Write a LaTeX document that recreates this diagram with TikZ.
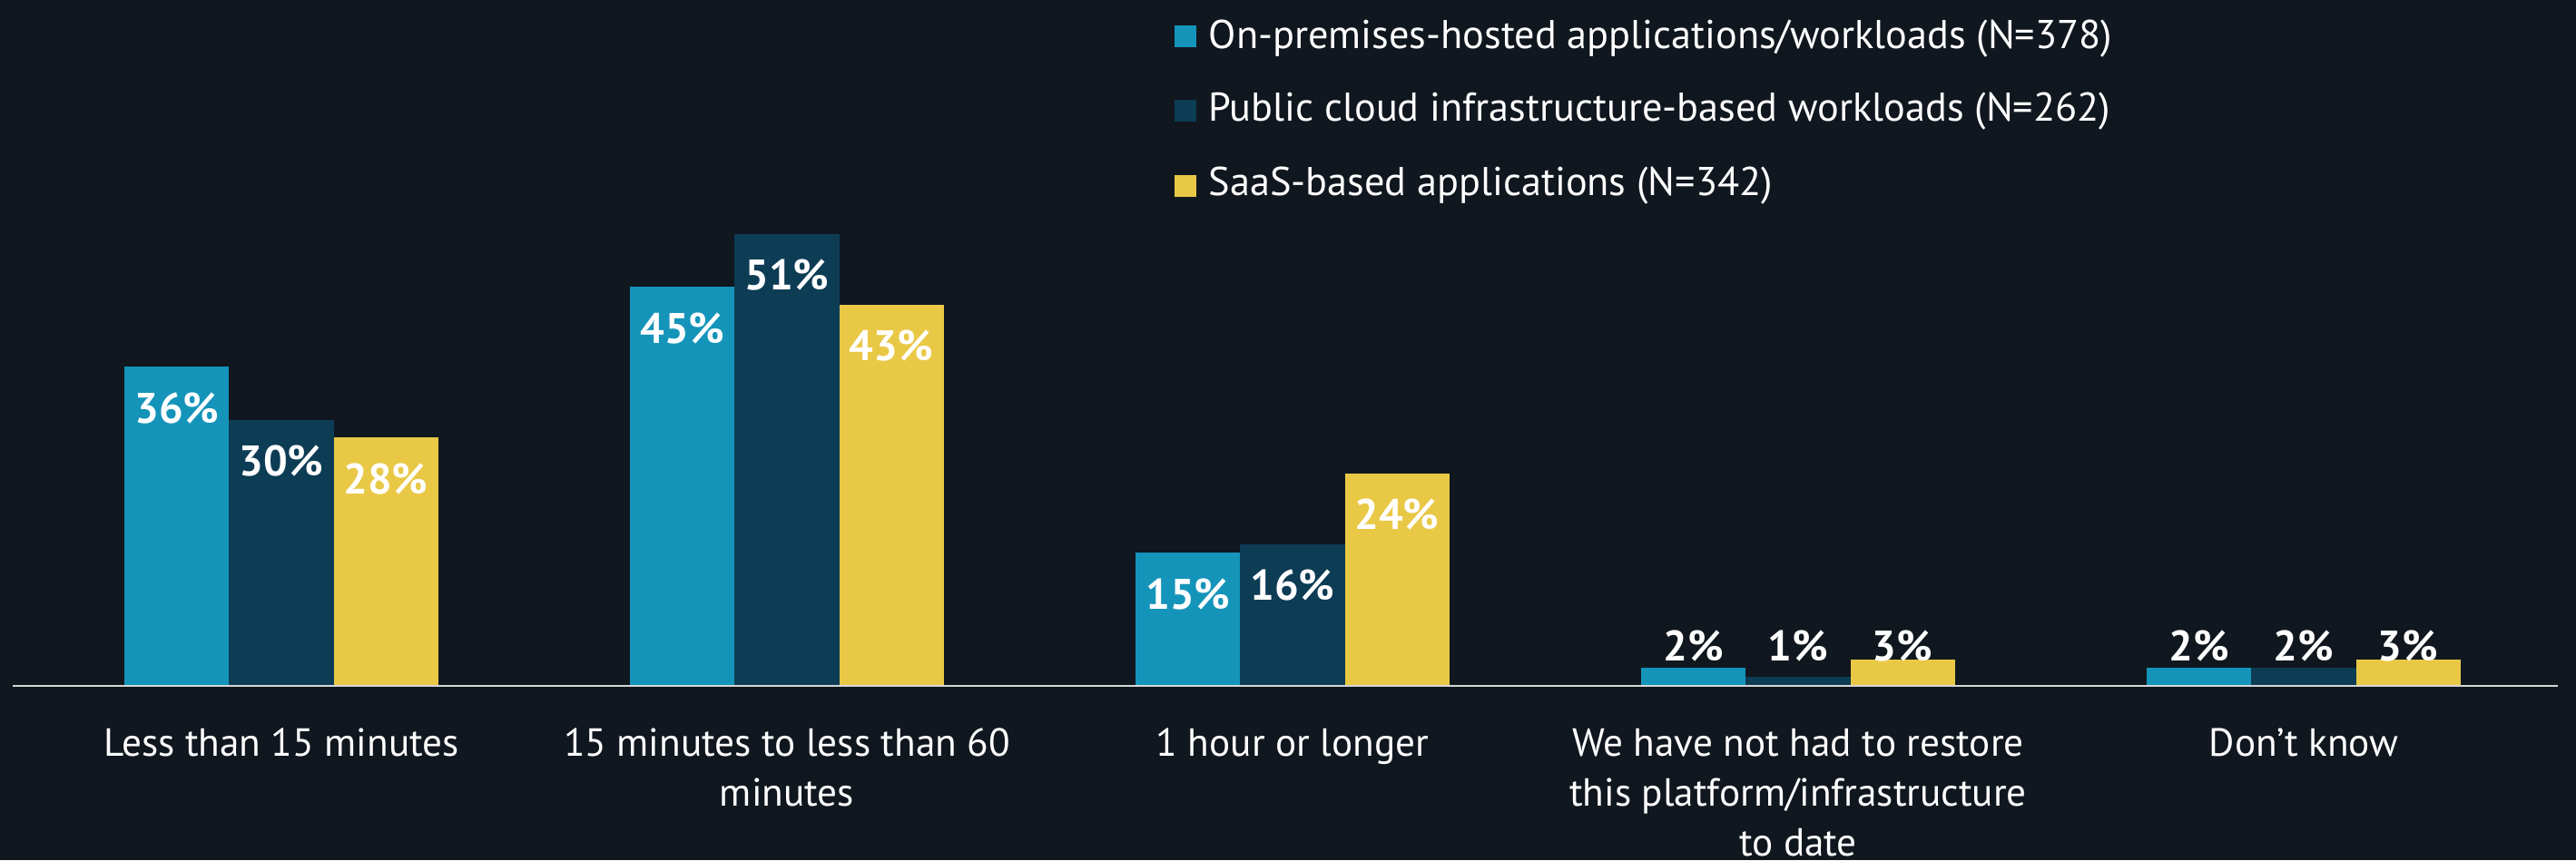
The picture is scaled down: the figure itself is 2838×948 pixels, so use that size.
\documentclass[tikz,border=0pt]{standalone}
\usepackage{fontspec}
\setmainfont{PT Sans}
\definecolor{bgc}{HTML}{10171F}
\definecolor{onprem}{HTML}{1594BA}
\definecolor{pubcloud}{HTML}{0D3C55}
\definecolor{saas}{HTML}{E9C846}
\definecolor{axisc}{HTML}{D6D6D6}
\tikzset{
  val/.style={text=white, font=\fontsize{13.4}{16}\selectfont\bfseries, inner sep=0pt, anchor=base},
  cat/.style={text=white, font=\fontsize{12.3}{15.6}\selectfont, align=center, inner sep=0pt, anchor=base},
  leg/.style={text=white, font=\fontsize{12.6}{15}\selectfont, inner sep=0pt, anchor=base west},
}
\begin{document}
\begin{tikzpicture}[x=0.01cm, y=-0.01cm]
\fill[bgc] (0,0) rectangle (2838,948);
\useasboundingbox (0,0) rectangle (2838,948);

% groups with labels inside the bars
\foreach \cx/\a/\b/\c/\i in {310/36/30/28/1, 867/45/51/43/2, 1424/15/16/24/3} {
  \fill[onprem]   ({\cx-173},756) rectangle ({\cx-58},{756-\a*9.77});
  \fill[pubcloud] ({\cx-58},756)  rectangle ({\cx+58},{756-\b*9.77});
  \fill[saas]     ({\cx+58},756)  rectangle ({\cx+173},{756-\c*9.77});
  \node[val] (va\i) at ({\cx-115},{756-\a*9.77+62}) {\a\%};
  \node[val] (vb\i) at ({\cx},{756-\b*9.77+62}) {\b\%};
  \node[val] (vc\i) at ({\cx+115},{756-\c*9.77+62}) {\c\%};
}
% groups with labels above the bars
\foreach \cx/\a/\b/\c/\i in {1981/2/1/3/4, 2538/2/2/3/5} {
  \fill[onprem]   ({\cx-173},756) rectangle ({\cx-58},{756-\a*9.77});
  \fill[pubcloud] ({\cx-58},756)  rectangle ({\cx+58},{756-\b*9.77});
  \fill[saas]     ({\cx+58},756)  rectangle ({\cx+173},{756-\c*9.77});
  \node[val] (va\i) at ({\cx-115},728) {\a\%};
  \node[val] (vb\i) at ({\cx},728) {\b\%};
  \node[val] (vc\i) at ({\cx+115},728) {\c\%};
}

% baseline axis
\draw[axisc, line width=0.8pt] (14,756) -- (2818,756);

% category labels (base anchor sits on the last line)
\node[cat] (cat1) at (310,833) {Less than 15 minutes};
\node[cat] (cat2) at (867,888) {15 minutes to less than 60\\minutes};
\node[cat] (cat3) at (1424,833) {1 hour or longer};
\node[cat] (cat4) at (1981,943) {We have not had to restore\\this platform/infrastructure\\to date};
\node[cat] (cat5) at (2538,833) {Don’t know};

% legend
\fill[onprem]   (1294,28)  rectangle (1318,52);
\fill[pubcloud] (1294,110) rectangle (1318,134);
\fill[saas]     (1294,193) rectangle (1318,217);
\node[leg] (leg1) at (1331,53)  {On-premises-hosted applications/workloads (N=378)};
\node[leg] (leg2) at (1331,133) {Public cloud infrastructure-based workloads (N=262)};
\node[leg] (leg3) at (1331,215) {SaaS-based applications (N=342)};
\end{tikzpicture}
\end{document}
